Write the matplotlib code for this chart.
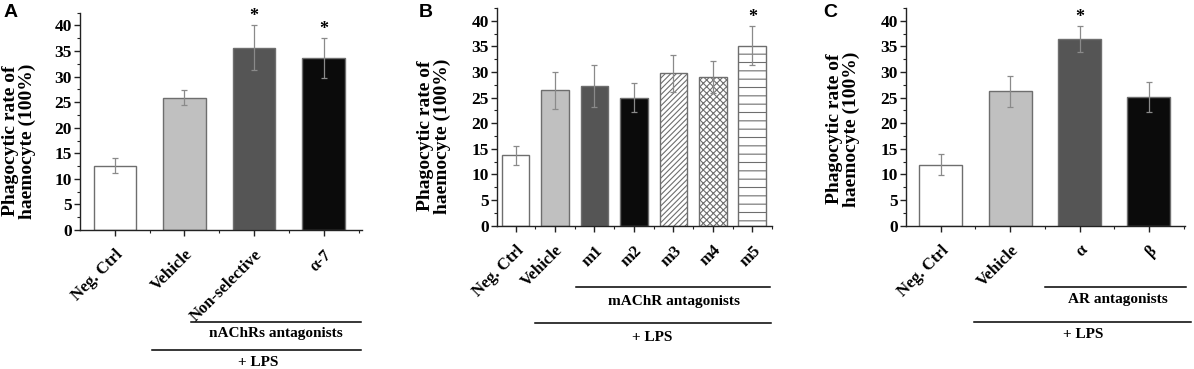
import matplotlib
matplotlib.use("Agg")
import matplotlib.pyplot as plt
from matplotlib.transforms import blended_transform_factory
from matplotlib.ticker import MultipleLocator

# ---- data ----
a_labels = ["Neg. Ctrl", "Vehicle", "Non-selective", "\u03b1-7"]
a_vals = [12.6, 25.9, 35.6, 33.7]
a_errs = [1.5, 1.4, 4.4, 3.9]
a_sig = [False, False, True, True]

b_labels = ["Neg. Ctrl", "Vehicle", "m1", "m2", "m3", "m4", "m5"]
b_vals = [13.7, 26.4, 27.3, 25.0, 29.7, 29.0, 35.1]
b_errs = [1.8, 3.6, 4.1, 2.8, 3.6, 3.1, 3.8]
b_sig = [False, False, False, False, False, False, True]

c_labels = ["Neg. Ctrl", "Vehicle", "\u03b1", "\u03b2"]
c_vals = [11.9, 26.2, 36.4, 25.1]
c_errs = [2.1, 3.1, 2.6, 3.0]
c_sig = [False, False, True, False]

ylabel = "Phagocytic rate of\nhaemocyte (100%)"

SERIF = ["Liberation Serif", "DejaVu Serif"]
plt.rcParams['font.family'] = SERIF
plt.rcParams['hatch.color'] = '#707070'
plt.rcParams['hatch.linewidth'] = 0.8

fig = plt.figure(figsize=(11.94, 3.69), dpi=100)
W, H = 1194, 369


def panel(rect, labels, vals, errs, sig, fills, hatches, width, xlim):
    ax = fig.add_axes(rect)
    x = list(range(1, len(vals) + 1))
    ax.bar(x, vals, width=width, color=fills, edgecolor='#6e6e6e', linewidth=1.0,
           hatch=hatches, zorder=2)
    ax.errorbar(x, vals, yerr=errs, fmt='none', ecolor='#8a8a8a', elinewidth=0.9,
                capsize=2.5, capthick=0.9, zorder=3)
    for xi, v, e, s in zip(x, vals, errs, sig):
        if s:
            ax.text(xi, v + e + 0.0, "*", ha='center', va='bottom', fontsize=13,
                    fontweight='bold')
    ax.set_xlim(*xlim)
    ax.set_ylim(0, 42.5)
    ax.yaxis.set_major_locator(MultipleLocator(5))
    ax.yaxis.set_minor_locator(MultipleLocator(2.5))
    ax.set_xticks(x)
    ax.set_xticks([i + 0.5 for i in x], minor=True)
    ax.set_xticklabels(labels, rotation=45, ha='right', rotation_mode='anchor',
                       fontsize=12, fontweight='bold')
    for t in ax.get_yticklabels():
        t.set_fontweight('bold')
        t.set_fontsize(12.5)
    ax.tick_params(axis='both', which='major', direction='out', length=4, width=1,
                   colors='#222222', labelcolor='black')
    ax.tick_params(axis='both', which='minor', direction='out', length=2.5, width=0.8,
                   colors='#222222')
    ax.tick_params(axis='x', which='major', pad=8)
    ax.tick_params(axis='y', which='major', pad=2)
    for s in ['top', 'right']:
        ax.spines[s].set_visible(False)
    for s in ['left', 'bottom']:
        ax.spines[s].set_linewidth(1.0)
        ax.spines[s].set_color('#222222')
    return ax


def group(ax, x0, x1, ly, tx, ty, text):
    tr = blended_transform_factory(ax.transData, fig.transFigure)
    ax.plot([x0, x1], [ly, ly], color='black', lw=1.1, transform=tr, clip_on=False)
    ax.text(tx, ty, text, transform=tr, ha='center', va='center', fontsize=11,
            fontweight='bold')


# Panel A
axA = panel([80 / W, 1 - 230 / H, 282 / W, 217.3 / H], a_labels, a_vals, a_errs, a_sig,
            ['white', '#c0c0c0', '#555555', '#0b0b0b'], None, 0.61, (0.5, 4.55))
group(axA, 2.1, 4.53, 1 - 321.7 / H, 3.32, 1 - 333 / H, "nAChRs antagonists")
group(axA, 1.53, 4.53, 1 - 350 / H, 3.06, 1 - 362 / H, "+ LPS")

# Panel B
axB = panel([497 / W, 1 - 225.7 / H, 275 / W, 217.8 / H], b_labels, b_vals, b_errs, b_sig,
            ['white', '#c0c0c0', '#555555', '#0b0b0b', 'white', 'white', 'white'],
            [None, None, None, None, '//////', 'xxxxx', '--'], 0.7, (0.53, 7.47))
group(axB, 2.54, 7.45, 1 - 286.7 / H, 5.02, 1 - 301 / H, "mAChR antagonists")
group(axB, 1.49, 7.47, 1 - 322.7 / H, 4.46, 1 - 337.7 / H, "+ LPS")

# Panel C
axC = panel([906 / W, 1 - 225.7 / H, 279 / W, 217.8 / H], c_labels, c_vals, c_errs, c_sig,
            ['white', '#c0c0c0', '#555555', '#0b0b0b'], None, 0.62, (0.5, 4.52))
group(axC, 2.5, 4.54, 1 - 286.7 / H, 3.56, 1 - 300 / H, "AR antagonists")
group(axC, 1.48, 4.61, 1 - 321.7 / H, 3.05, 1 - 335 / H, "+ LPS")

# y labels
for xc, yc in [(19, 141), (434, 136), (843, 129)]:
    fig.text(xc / W, 1 - yc / H, ylabel, rotation=90, ha='center', va='center',
             fontsize=14, fontweight='bold', linespacing=0.95)

# panel letters
for xl, letter in [(4, "A"), (419, "B"), (823, "C")]:
    fig.text(xl / W, 1 - 4 / H, letter, ha='left', va='top', fontsize=14,
             fontweight='bold', family=["Liberation Sans", "DejaVu Sans"])

fig.savefig("out.png", dpi=100)
